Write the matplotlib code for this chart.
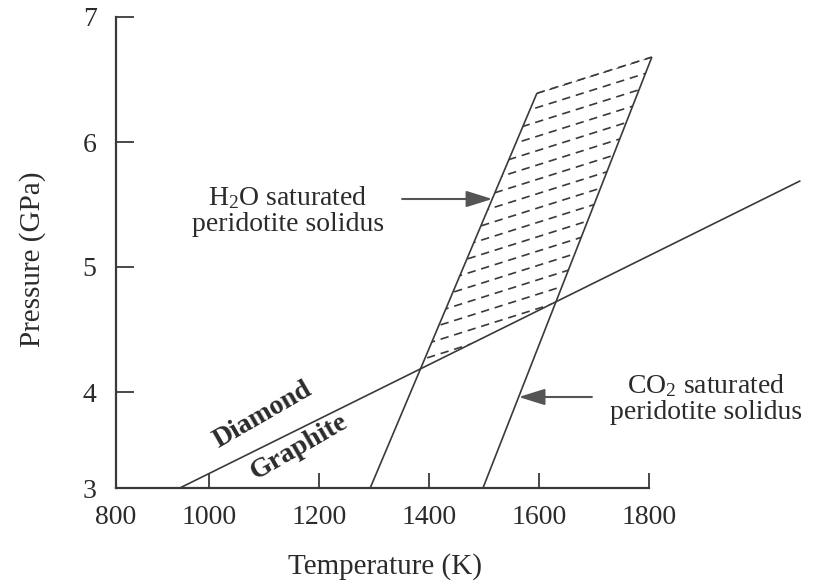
import numpy as np
import matplotlib
matplotlib.use("Agg")
import matplotlib.pyplot as plt
from matplotlib.patches import Polygon

plt.rcParams["font.family"] = ["Liberation Serif", "DejaVu Serif"]
plt.rcParams["mathtext.fontset"] = "custom"
plt.rcParams["mathtext.rm"] = "Liberation Serif"
plt.rcParams["mathtext.it"] = "Liberation Serif:italic"

# axes
t_min, t_max, t_end = 831, 1800, 2136
p_min, p_max = 3.232, 7.0
x_ticks = [t_min, 1000, 1200, 1400, 1600, 1800]
x_labels = ["800", "1000", "1200", "1400", "1600", "1800"]
y_ticks = [p_min, 4, 5, 6, 7]
y_labels = ["3", "4", "5", "6", "7"]

# boundaries (temperature K, pressure GPa)
dg_T = [947, 2075]
dg_P = [3.232, 5.69]
h2o_T = [1293, 1596]
h2o_P = [3.232, 6.39]
co2_T = [1498, 1805]
co2_P = [3.232, 6.68]

# arrows : tail, tip
h2o_arrow_T = [1351, 1515]
h2o_arrow_P = [5.544, 5.544]
co2_arrow_T = [1696, 1563]
co2_arrow_P = [3.96, 3.96]

line_col = "#3a3a3a"
text_col = "#2b2b2b"


def intersect(T1, P1, T2, P2):
    '''intersection de deux droites données par deux points'''
    a1 = (P1[1] - P1[0]) / (T1[1] - T1[0])
    a2 = (P2[1] - P2[0]) / (T2[1] - T2[0])
    b1 = P1[0] - a1 * T1[0]
    b2 = P2[0] - a2 * T2[0]
    t = (b2 - b1) / (a1 - a2)
    return t, a1 * t + b1


fig = plt.figure(figsize=(8.34, 5.84), dpi=100)
W, H = 834, 584
ax = fig.add_axes([116 / W, 1 - 488 / H, (W - 116) / W, (488 - 17) / H])
ax.set_xlim(t_min, t_end)
ax.set_ylim(p_min, p_max)

for s in ["top", "right"]:
    ax.spines[s].set_visible(False)
for s in ["left", "bottom"]:
    ax.spines[s].set_linewidth(1.6)
    ax.spines[s].set_color(line_col)
ax.spines["bottom"].set_bounds(t_min, t_max)

ax.set_xticks(x_ticks, x_labels)
ax.set_yticks(y_ticks, y_labels)
ax.tick_params(axis="both", direction="in", labelsize=20, colors=line_col,
               labelcolor=text_col, width=1.3)
ax.tick_params(axis="y", length=13, pad=14)
ax.tick_params(axis="x", length=11, pad=12)

ax.set_xlabel("Temperature (K)", fontsize=21, color=text_col)
ax.xaxis.set_label_coords((385 - 116) / (W - 116), -(553 - 488) / (488 - 17))
ax.set_ylabel("Pressure (GPa)", fontsize=21, color=text_col)
ax.yaxis.set_label_coords((46 - 116) / (W - 116), (488 - 259) / (488 - 17))

# lignes
for T, P in [(dg_T, dg_P), (h2o_T, h2o_P), (co2_T, co2_P)]:
    ax.plot(T, P, color=line_col, lw=1.2, solid_capstyle="butt", clip_on=False)

# zone hachurée
a = intersect(h2o_T, h2o_P, dg_T, dg_P)
b = intersect(co2_T, co2_P, dg_T, dg_P)
poly = Polygon([a, (h2o_T[1], h2o_P[1]), (co2_T[1], co2_P[1]), b],
               closed=True, fill=False, edgecolor="none")
ax.add_patch(poly)
slope = (co2_P[1] - h2o_P[1]) / (co2_T[1] - h2o_T[1])
for k in range(24):
    p0 = h2o_P[1] - 0.115 * k
    tt = np.array([1200, 1950])
    pp = p0 + slope * (tt - h2o_T[1])
    ln, = ax.plot(tt, pp, color=line_col, lw=1.2, ls=(0, (5, 3.5)))
    ln.set_clip_path(poly)
ax.plot([h2o_T[1], co2_T[1]], [h2o_P[1], co2_P[1]], color=line_col, lw=1.2,
        ls=(0, (5, 3.5)))

# flèches
for T, P in [(h2o_arrow_T, h2o_arrow_P), (co2_arrow_T, co2_arrow_P)]:
    ax.annotate("", xy=(T[1], P[1]), xytext=(T[0], P[0]),
                arrowprops=dict(arrowstyle="-|>,head_length=0.8,head_width=0.25",
                                color="#555555", lw=1.5, mutation_scale=20,
                                shrinkA=0, shrinkB=0))

ax.text(1144, 5.45, "H$_2$O saturated\nperidotite solidus", fontsize=20,
        color=text_col, ha="center", va="center", linespacing=1.05)
ax.text(1904, 3.95, "CO$_2$ saturated\nperidotite solidus", fontsize=20,
        color=text_col, ha="center", va="center", linespacing=1.05)

ax.text(1098, 3.82, "Diamond", fontsize=20, fontweight="bold", color=text_col,
        rotation=30, ha="center", va="center")
ax.text(1164, 3.56, "Graphite", fontsize=20, fontweight="bold", color=text_col,
        rotation=30, ha="center", va="center")

fig.savefig("out.png", dpi=100)
